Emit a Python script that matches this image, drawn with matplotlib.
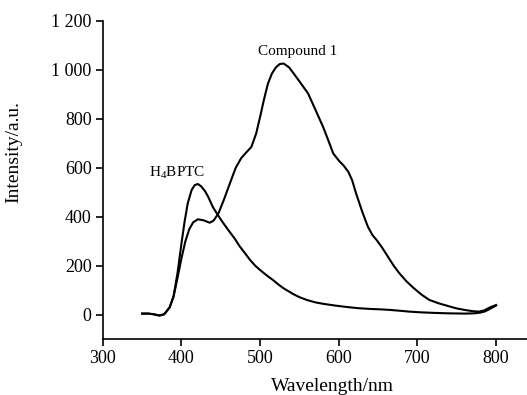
import matplotlib
matplotlib.use('Agg')
import matplotlib.pyplot as plt
from matplotlib.ticker import FuncFormatter

plt.rcParams['font.family'] = ['Liberation Serif', 'DejaVu Serif']
plt.rcParams['mathtext.fontset'] = 'custom'
plt.rcParams['mathtext.rm'] = 'Liberation Serif'

# emission spectra
wl_comp = [350, 358, 365, 372, 378, 385, 390, 395, 400, 405, 410, 415, 421,
           428, 436, 441, 447, 454, 462, 469, 476, 483, 489, 495, 500, 505,
           510, 515, 520, 525, 530, 537, 546, 553, 561, 570, 580, 587, 593,
           600, 606, 612, 617, 622, 630, 637, 643, 648, 655, 662, 670, 677,
           686, 695, 705, 715, 727, 740, 750, 760, 770, 778, 785, 792, 800]
int_comp = [5, 5, 2, -3, 2, 30, 75, 150, 230, 300, 350, 378, 390,
            386, 376, 385, 414, 470, 540, 600, 640, 665, 686, 740, 808, 880,
            944, 985, 1010, 1024, 1026, 1010, 971, 940, 904, 840, 768, 710, 659,
            630, 610, 585, 550, 496, 420, 360, 325, 306, 275, 240, 200, 170,
            137, 110, 83, 61, 47, 35, 26, 20, 15, 13, 18, 30, 40]

wl_ligand = [350, 358, 365, 372, 378, 385, 390, 395, 400, 404, 408, 413, 417,
             421, 425, 430, 434, 440, 445, 452, 461, 468, 474, 480, 487, 494,
             500, 508, 516, 524, 530, 542, 550, 560, 570, 580, 595, 610, 625,
             640, 655, 665, 680, 690, 705, 720, 740, 760, 772, 780, 786, 792, 800]
int_ligand = [5, 5, 2, -3, 2, 30, 75, 170, 290, 380, 455, 510, 530,
              534, 525, 505, 482, 440, 414, 380, 340, 310, 280, 255, 225, 200,
              183, 162, 143, 122, 108, 85, 72, 60, 51, 45, 38, 32, 27,
              24, 22, 20, 16, 13, 10, 8, 6, 5, 6, 9, 14, 24, 38]

x_ticks = [300, 400, 500, 600, 700, 800]
y_ticks = [0, 200, 400, 600, 800, 1000, 1200]

fig = plt.figure(figsize=(5.27, 3.95), dpi=100)
ax = fig.add_axes([0.195, 0.141, 0.806, 0.806])

ax.plot(wl_comp, int_comp, color='black', lw=1.5)
ax.plot(wl_ligand, int_ligand, color='black', lw=1.5)

ax.text(548, 1076, 'Compound 1', ha='center', va='center', fontsize=11)
ax.text(394, 579, 'H$_4$BPTC', ha='center', va='center', fontsize=11)

ax.set_xlim(300, 840)
ax.set_ylim(-100, 1200)
ax.set_xticks(x_ticks)
ax.set_yticks(y_ticks)
ax.yaxis.set_major_formatter(FuncFormatter(
    lambda v, p: '{:,}'.format(int(v)).replace(',', ' ')))

ax.spines['top'].set_visible(False)
ax.spines['right'].set_visible(False)
for s in ('left', 'bottom'):
    ax.spines[s].set_linewidth(1.2)
ax.tick_params(direction='out', length=5, width=1.2, labelsize=13, pad=3)

ax.set_xlabel('Wavelength/nm', fontsize=14)
ax.set_ylabel('Intensity/a.u.', fontsize=14)
ax.xaxis.set_label_coords(0.54, -0.121)
ax.yaxis.set_label_coords(-0.19, 0.588)

fig.savefig('out.png', dpi=100)
